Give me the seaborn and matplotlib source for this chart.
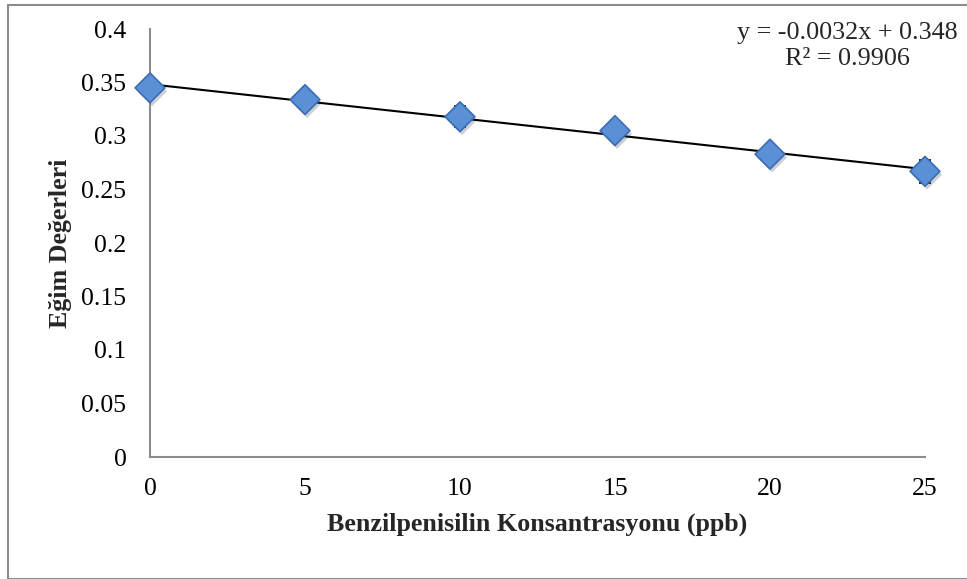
import numpy as np
import pandas as pd
import matplotlib
matplotlib.use("Agg")
import matplotlib.pyplot as plt
import matplotlib.patheffects as pe
from matplotlib.patches import Rectangle
import seaborn as sns

# values
concentration = [0, 5, 10, 15, 20, 25]
slope_values = [0.345, 0.334, 0.318, 0.305, 0.283, 0.267]
slope_errors = [0.003, 0.0085, 0.010, 0.005, 0.005, 0.011]
y_ticks = [0, 0.05, 0.1, 0.15, 0.2, 0.25, 0.3, 0.35, 0.4]
x_ticks = [0, 5, 10, 15, 20, 25]
equation_text = "y = -0.0032x + 0.348\nR² = 0.9906"


def main():
    df = pd.DataFrame({"conc": concentration, "slope": slope_values, "err": slope_errors})

    sns.set_theme(style="white")
    plt.rcParams["font.family"] = ["Liberation Serif", "DejaVu Serif"]

    fig = plt.figure(figsize=(9.67, 5.79), dpi=100)
    ax = fig.add_axes([150 / 967, 1 - 457 / 579, 775 / 967, 428 / 579])

    # outer chart frame like the Excel chart area
    fig.patches.append(Rectangle((8 / 967, 0.5 / 579), 1.2, 573.5 / 579, transform=fig.transFigure,
                                 fill=False, edgecolor="#8c8c8c", linewidth=1.5, zorder=0))

    # linear trend line
    sns.regplot(data=df, x="conc", y="slope", ax=ax, scatter=False, ci=None, truncate=True,
                line_kws={"color": "black", "linewidth": 1.5, "zorder": 2, "clip_on": False})

    eb = ax.errorbar(df["conc"], df["slope"], yerr=df["err"], fmt="none", ecolor="black",
                     elinewidth=1.2, capsize=4, capthick=1.2, zorder=1)
    for art in eb.lines[1] + eb.lines[2]:
        art.set_clip_on(False)

    sns.scatterplot(data=df, x="conc", y="slope", ax=ax, marker="D", s=230,
                    color="#5b8fd6", edgecolor="#3c6db3", linewidth=1.2, zorder=3, clip_on=False,
                    path_effects=[pe.SimplePatchShadow(offset=(1.5, -2.5), alpha=0.22), pe.Normal()])

    ax.set_xlim(0, 25)
    ax.set_ylim(0, 0.4)
    ax.set_xticks(x_ticks)
    ax.set_yticks(y_ticks)
    ax.set_xticklabels([f"{v:g}" for v in x_ticks])
    ax.set_yticklabels([f"{v:g}" for v in y_ticks])
    ax.tick_params(axis="both", length=0, labelsize=18.5, colors="black")
    ax.tick_params(axis="x", pad=15)
    ax.tick_params(axis="y", pad=17)

    for side in ["top", "right"]:
        ax.spines[side].set_visible(False)
    for side in ["left", "bottom"]:
        ax.spines[side].set_color("#8c8c8c")
        ax.spines[side].set_linewidth(1.5)
    ax.grid(False)

    ax.set_xlabel("Benzilpenisilin Konsantrasyonu (ppb)", fontsize=18.7, fontweight="bold")
    ax.set_ylabel("Eğim Değerleri", fontsize=18.7, fontweight="bold")
    ax.xaxis.set_label_coords(0.5, -(524 - 457) / 428)
    ax.xaxis.label.set_va("center")
    ax.yaxis.set_label_coords(-(150 - 60) / 775, 0.5)
    ax.yaxis.label.set_va("center")

    fig.text(847 / 967, 1 - 46 / 579, equation_text, ha="center", va="center",
             multialignment="center", fontsize=18.8, linespacing=1.2)

    fig.savefig("out.png", dpi=100)


if __name__ == "__main__":
    main()
